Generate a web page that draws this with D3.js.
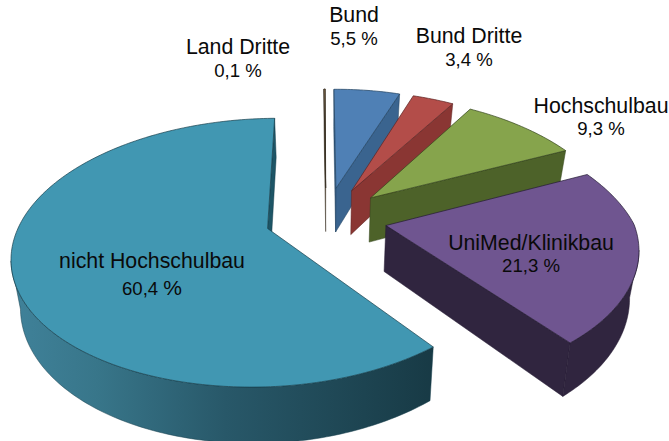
<!DOCTYPE html>
<html><head><meta charset="utf-8">
<script src="https://cdn.jsdelivr.net/npm/d3@7/dist/d3.min.js"></script>
<style>html,body{margin:0;padding:0;background:#fff}svg{display:block}text{font-family:"Liberation Sans",Arial,sans-serif;fill:#0a0a0a;text-anchor:middle}</style>
</head><body><div id="chart"></div>
<script>
// Data, clockwise from the top of the pie
const categories = ["Land Dritte","Bund","Bund Dritte","Hochschulbau","UniMed/Klinikbau","nicht Hochschulbau"];
const shares     = [0.1,5.5,3.4,9.3,21.3,60.4];
const shareNumbers= ["0,1","5,5","3,4","9,3","21,3","60,4"];

// Styles
const topColors  = ["#b08d5e","#4f80b5","#b34d49","#86a44c","#6f5590","#4197b2"];
const cutColors  = ["#6b5a40","#3a648f","#8a3633","#4d6229","#30253f","#1d5566"];
const wallColors = ["#6b5a40","#3a648f","#8a3633","#4d6229","#30253f","url(#tealWall)"];
const edgeColors = ["#3a3226","#20405f","#5c2422","#33441c","#241b32","#173f4c"];

// Layout
const W=669,H=441;
const view={cx:326,cy:218,radius:246,explode:61,tilt:0.5134,persp:0.000722,depth:45.5,converge:0.03,skewY:0.01,warpA:0.025,warpB:0.012};
const startDeg=-0.5;
// Label anchor positions: [center x, name baseline, value baseline]
const labelPos=[[238,54,77],[354,22,45],[469,43,66],[601,113,135],[531,250,272],[152,268,295]];
const nameSize=21.3, valueSize=18.6, bigPercent=21;

const rad=d=>d*Math.PI/180;
const pie=d3.pie().sort(null).startAngle(rad(startDeg)).endAngle(rad(startDeg)+2*Math.PI);
const arcs=pie(shares);
const svg=d3.select("#chart").append("svg").attr("width",W).attr("height",H);
const line=d3.line();

const grad=svg.append("defs").append("linearGradient").attr("id","tealWall")
  .attr("gradientUnits","userSpaceOnUse").attr("x1",10).attr("x2",440).attr("y1",0).attr("y2",0);
[[0,"#40829a"],[0.2,"#38768a"],[0.5,"#285869"],[1,"#173944"]].forEach(s=>grad.append("stop").attr("offset",s[0]).attr("stop-color",s[1]));

function project(X,Y,z){
  const s=1/(1+view.persp*Y);
  return [view.cx+X*s*(1-view.converge*z), view.cy-Y*view.tilt*s+z*view.depth*s];
}
// small correction of the rim towards the picture's own foreshortening
function warp(th){
  if(th>0&&th<Math.PI/2) return -view.warpA*Math.sin(2*th);
  if(th>=Math.PI/2&&th<Math.PI) return view.warpB*Math.sin(2*th);
  return 0;
}
const order=[0,1,2,3,5,4];
order.forEach(i=>{
  const a=arcs[i], mid=(a.startAngle+a.endAngle)/2;
  const ax=view.explode*Math.sin(mid), ay=view.explode*Math.cos(mid);
  const apex=z=>project(ax,ay,z);
  const rim=(th,z)=>project(
    ax+view.radius*(Math.sin(th)+warp(th)),
    ay+view.radius*(Math.cos(th)+view.skewY*Math.sin(th)),z);
  const n=Math.max(2,Math.ceil((a.endAngle-a.startAngle)/rad(1)));
  const angs=d3.range(n+1).map(k=>a.startAngle+(a.endAngle-a.startAngle)*k/n);
  const g=svg.append("g").attr("class","slice").attr("data-name",categories[i]);
  const face=(tp,bt,col)=>g.append("path").attr("d",line(tp.concat(bt.slice().reverse()))+"Z")
    .attr("fill",col).attr("stroke",edgeColors[i]).attr("stroke-width",0.5).attr("stroke-linejoin","round");
  // cut faces (only those facing the viewer)
  if(rim(a.startAngle,0)[0]<apex(0)[0]) face([apex(0),rim(a.startAngle,0)],[apex(1),rim(a.startAngle,1)],cutColors[i]);
  if(apex(0)[0]<rim(a.endAngle,0)[0]) face([rim(a.endAngle,0),apex(0)],[rim(a.endAngle,1),apex(1)],cutColors[i]);
  // curved outer wall: visible runs only, as one solid face each
  let run=[];
  const flush=()=>{ if(run.length>1) face(run.map(t=>rim(t,0)),run.map(t=>rim(t,1)),wallColors[i]); run=[]; };
  for(let k=0;k<n;k++){
    if(rim(angs[k+1],0)[0]<rim(angs[k],0)[0]){ if(!run.length) run.push(angs[k]); run.push(angs[k+1]); }
    else flush();
  }
  flush();
  // top face
  const pts=[apex(0)].concat(angs.map(t=>rim(t,0)));
  g.append("path").attr("d",line(pts)+"Z").attr("fill",topColors[i]).attr("stroke",edgeColors[i]).attr("stroke-width",i===0?1:0.7).attr("stroke-linejoin","round");
});
// Labels
categories.forEach((c,i)=>{
  const p=labelPos[i];
  svg.append("text").attr("x",p[0]).attr("y",p[1]).attr("font-size",nameSize).text(c);
  const v=svg.append("text").attr("x",p[0]).attr("y",p[2]).attr("font-size",valueSize).text(shareNumbers[i]+" ");
  v.append("tspan").attr("font-size",i===5?bigPercent:valueSize).text("%");
});
</script></body></html>
